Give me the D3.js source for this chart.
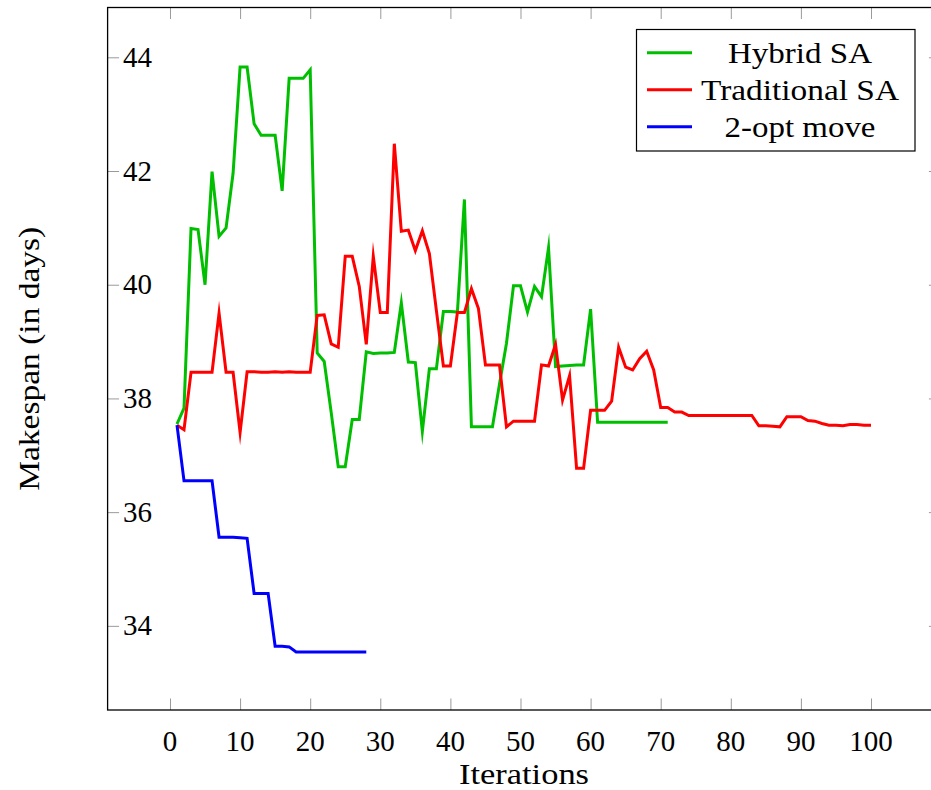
<!DOCTYPE html>
<html>
<head>
<meta charset="utf-8">
<script src="https://cdn.jsdelivr.net/npm/d3@7"></script>
<style>
  html, body { margin: 0; padding: 0; background: #fff; }
  svg { display: block; }
  text { font-family: "Liberation Serif", "DejaVu Serif", serif; fill: #000; }
</style>
</head>
<body>
<svg id="chart" width="931" height="790"></svg>
<script>
// Makespan per iteration for each search strategy (iteration = index + 1)
const hybridSA = [
  37.55, 37.83, 40.99, 40.97, 40.00, 41.99, 40.85, 41.00, 41.96, 43.83,
  43.83, 42.83, 42.63, 42.63, 42.63, 41.65, 43.63, 43.63, 43.63, 43.78,
  38.80, 38.65, 37.75, 36.80, 36.80, 37.63, 37.63, 38.82, 38.79, 38.80,
  38.80, 38.81, 39.68, 38.64, 38.63, 37.42, 38.52, 38.52, 39.53, 39.53,
  39.52, 41.50, 37.50, 37.50, 37.50, 37.50, 38.25, 38.97, 39.98, 39.98,
  39.52, 39.97, 39.79, 40.65, 38.56, 38.57, 38.58, 38.59, 38.59, 39.57,
  37.58, 37.58, 37.58, 37.58, 37.58, 37.58, 37.58, 37.58, 37.58, 37.58,
  37.58
];
const traditionalSA = [
  37.53, 37.45, 38.46, 38.46, 38.46, 38.46, 39.50, 38.46, 38.46, 37.40,
  38.47, 38.47, 38.46, 38.46, 38.47, 38.46, 38.47, 38.46, 38.46, 38.46,
  39.46, 39.47, 38.96, 38.90, 40.50, 40.50, 39.97, 38.95, 40.50, 39.51,
  39.51, 42.48, 40.94, 40.96, 40.60, 40.95, 40.55, 39.55, 38.57, 38.57,
  39.51, 39.51, 39.93, 39.58, 38.59, 38.59, 38.59, 37.50, 37.60, 37.60,
  37.60, 37.60, 38.59, 38.57, 38.95, 37.97, 38.40, 36.77, 36.77, 37.79,
  37.79, 37.79, 37.95, 38.90, 38.55, 38.50, 38.70, 38.83, 38.50, 37.84,
  37.84, 37.76, 37.76, 37.70, 37.70, 37.70, 37.70, 37.70, 37.70, 37.70,
  37.70, 37.70, 37.70, 37.52, 37.52, 37.51, 37.50, 37.68, 37.68, 37.68,
  37.61, 37.60, 37.56, 37.53, 37.53, 37.52, 37.54, 37.54, 37.53, 37.53
];
const twoOptMove = [
  37.53, 36.55, 36.55, 36.55, 36.55, 36.55, 35.56, 35.56, 35.56, 35.55,
  35.54, 34.57, 34.57, 34.57, 33.64, 33.64, 33.63, 33.54, 33.54, 33.54,
  33.54, 33.54, 33.54, 33.54, 33.54, 33.54, 33.54, 33.54
];

const seriesNames = ["Hybrid SA", "Traditional SA", "2-opt move"];
const seriesColors = ["#00bf00", "#ff0000", "#0000ff"];
const xTicks = [0, 10, 20, 30, 40, 50, 60, 70, 80, 90, 100];
const yTicks = [34, 36, 38, 40, 42, 44];
const xLabel = "Iterations";
const yLabel = "Makespan (in days)";

const svg = d3.select("#chart");

// Plot frame (right edge lies just past the visible canvas)
const frame = { left: 107.6, right: 940.4, top: 7.5, bottom: 710 };

const x = d3.scaleLinear().domain([-8.9, 109.9]).range([frame.left, frame.right]);
const y = d3.scaleLinear().domain([32.52, 44.876]).range([frame.bottom, frame.top]);

const TICK = 11.5;
const FONT = 29;

// Inward tick marks on all four sides
const tickStyle = g => g.selectAll("line").attr("stroke", "#9a9a9a").attr("stroke-width", 1);

svg.append("g")
  .attr("transform", `translate(0,${frame.bottom})`)
  .call(d3.axisBottom(x).tickValues(xTicks).tickSize(-TICK).tickFormat(""))
  .call(g => g.select(".domain").remove())
  .call(tickStyle);
svg.append("g")
  .attr("transform", `translate(0,${frame.top})`)
  .call(d3.axisTop(x).tickValues(xTicks).tickSize(-TICK).tickFormat(""))
  .call(g => g.select(".domain").remove())
  .call(tickStyle);
svg.append("g")
  .attr("transform", `translate(${frame.left},0)`)
  .call(d3.axisLeft(y).tickValues(yTicks).tickSize(-TICK).tickFormat(""))
  .call(g => g.select(".domain").remove())
  .call(tickStyle);
svg.append("g")
  .attr("transform", `translate(${frame.right},0)`)
  .call(d3.axisRight(y).tickValues(yTicks).tickSize(-TICK).tickFormat(""))
  .call(g => g.select(".domain").remove())
  .call(tickStyle);

// Tick labels
svg.append("g").selectAll("text")
  .data(xTicks).join("text")
  .attr("x", d => x(d))
  .attr("y", 751)
  .attr("text-anchor", "middle")
  .attr("font-size", FONT)
  .text(d => d);

svg.append("g").selectAll("text")
  .data(yTicks).join("text")
  .attr("x", 152)
  .attr("y", d => y(d) + 9.5)
  .attr("text-anchor", "end")
  .attr("font-size", FONT)
  .text(d => d);

// Axis titles
svg.append("text")
  .attr("x", (frame.left + frame.right) / 2)
  .attr("y", 784)
  .attr("text-anchor", "middle")
  .attr("font-size", FONT)
  .attr("textLength", 130)
  .attr("lengthAdjust", "spacingAndGlyphs")
  .text(xLabel);

svg.append("text")
  .attr("transform", `translate(39,${(frame.top + frame.bottom) / 2}) rotate(-90)`)
  .attr("text-anchor", "middle")
  .attr("font-size", FONT)
  .attr("textLength", 264)
  .attr("lengthAdjust", "spacingAndGlyphs")
  .text(yLabel);

// Data lines
const line = d3.line()
  .x((d, i) => x(i + 1))
  .y(d => y(d));

const allSeries = [hybridSA, traditionalSA, twoOptMove];
svg.append("g").selectAll("path")
  .data(allSeries).join("path")
  .attr("d", d => line(d))
  .attr("fill", "none")
  .attr("stroke", (d, i) => seriesColors[i])
  .attr("stroke-width", 3)
  .attr("stroke-linejoin", "miter")
  .attr("stroke-miterlimit", 10);

// Frame
svg.append("rect")
  .attr("x", frame.left)
  .attr("y", frame.top)
  .attr("width", frame.right - frame.left)
  .attr("height", frame.bottom - frame.top)
  .attr("fill", "none")
  .attr("stroke", "#000")
  .attr("stroke-width", 1.3);

// Legend
const legend = svg.append("g");
legend.append("rect")
  .attr("x", 636.5).attr("y", 29.5)
  .attr("width", 278.5).attr("height", 121.5)
  .attr("fill", "#fff")
  .attr("stroke", "#000")
  .attr("stroke-width", 1.2);

const legendWidths = [144, 198, 151];
const rows = legend.selectAll("g.row")
  .data(seriesNames).join("g")
  .attr("class", "row")
  .attr("transform", (d, i) => `translate(0,${52.7 + i * 37})`);
rows.append("line")
  .attr("x1", 647).attr("x2", 692)
  .attr("y1", 0).attr("y2", 0)
  .attr("stroke", (d, i) => seriesColors[i])
  .attr("stroke-width", 3);
rows.append("text")
  .attr("x", 800)
  .attr("y", 10)
  .attr("text-anchor", "middle")
  .attr("font-size", FONT)
  .attr("textLength", (d, i) => legendWidths[i])
  .attr("lengthAdjust", "spacingAndGlyphs")
  .text(d => d);
</script>
</body>
</html>
